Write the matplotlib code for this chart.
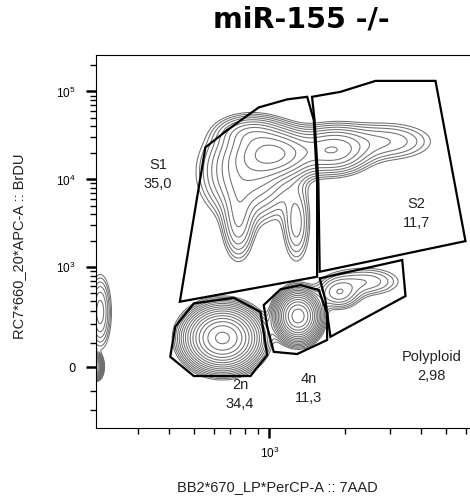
import numpy as np
import matplotlib
matplotlib.use('Agg')
import matplotlib.pyplot as plt
from matplotlib.ticker import FixedLocator, NullFormatter

plt.rcParams['mathtext.fontset'] = 'custom'
plt.rcParams['mathtext.rm'] = 'Liberation Sans'
plt.rcParams['mathtext.it'] = 'Liberation Sans'

# scale constant of the BrdU (arcsinh) axis
ASINH_C = 147.0

# cell populations: centre (x = 7AAD, y = BrdU), spread in decades / asinh units, weight
pop_names = ['2n', '4n', 'G2', 'poly tail', 'S core', 'S broad', 'S top', 'S2 peak', 'S2 tail',
             'leg L', 'leg R', 'edge', 'edge zero']
pop_x = [651, 1299, 1880, 2405, 1056, 828, 845, 1795, 2884, 753, 1280, 213, 207]
pop_y = [123, 260, 498, 680, 19900, 12000, 34000, 21500, 27000, 3270, 3100, 293, 0]
pop_sx = [0.067, 0.04, 0.048, 0.087, 0.087, 0.099, 0.071, 0.079, 0.119, 0.036, 0.032, 0.025, 0.01]
pop_sy = [0.37, 0.3, 0.236, 0.236, 0.34, 0.654, 0.236, 0.34, 0.314, 0.576, 0.6, 0.55, 0.13]
pop_w = [1.0, 0.4, 0.028, 0.03, 0.237, 0.291, 0.042, 0.121, 0.056, 0.05, 0.034, 0.033, 0.04]

# gates (data units)
s1_x = [441, 557, 680, 907, 1175, 1412, 1500, 1546, 1546]
s1_y = [393, 23100, 36400, 65900, 81300, 87000, 47200, 9080, 775]
s2_x = [1476, 1914, 2636, 4560, 5997, 1583, 1564, 1510]
s2_y = [87000, 99100, 132000, 132000, 1985, 885, 9080, 47200]
poly_x = [1583, 3365, 3467, 1746, 1667]
poly_y = [742, 1206, 460, 129, 411]
n4_x = [949, 1106, 1328, 1570, 1694, 1694, 1288, 1040, 980]
n4_y = [358, 553, 620, 542, 281, 113, 51, 60, 186]
n2_x = [404, 423, 501, 722, 921, 980, 841, 501]
n2_y = [40, 186, 375, 438, 294, 47, -35, -35]

gate_labels = ['S1\n35,0', 'S2\n11,7', 'Polyploid\n2,98', '2n\n34,4', '4n\n11,3']


def fwd(y):
    return np.arcsinh(np.asarray(y, dtype=float) / ASINH_C)


def inv(v):
    return ASINH_C * np.sinh(v)


def density():
    u = np.linspace(2.15, 3.9, 500)
    v = np.linspace(-3.0, 8.6, 500)
    U, V = np.meshgrid(u, v)
    Z = np.zeros_like(U)
    for x, y, sx, sy, w in zip(pop_x, pop_y, pop_sx, pop_sy, pop_w):
        cu = np.log10(x)
        cv = fwd(y)
        Z += w / (sx * sy) * np.exp(-0.5 * (((U - cu) / sx) ** 2 + ((V - cv) / sy) ** 2))
    return 10 ** U, inv(V), Z


fig = plt.figure(figsize=(4.7, 5.0), dpi=100)
ax = fig.add_axes([96 / 470, 72 / 500, 374 / 470, 373 / 500])
ax.set_xscale('log')
ax.set_yscale('function', functions=(fwd, inv))
ax.set_xlim(205, 6250)
ax.set_ylim(-348, 260000)

X, Y, Z = density()
levels = np.geomspace(Z.max() * 0.012, Z.max() * 0.92, 16)
ax.contour(X, Y, Z, levels=levels, colors='#707070', linewidths=0.75)

for gx, gy in [(s1_x, s1_y), (s2_x, s2_y), (poly_x, poly_y), (n4_x, n4_y), (n2_x, n2_y)]:
    ax.fill(gx, gy, facecolor='none', edgecolor='black', linewidth=1.6, zorder=3)

label_pos = [(0.166, 0.68), (0.857, 0.576), (0.898, 0.164), (0.385, 0.090), (0.568, 0.106)]
for txt, (lx, ly) in zip(gate_labels, label_pos):
    ax.text(lx, ly, txt, transform=ax.transAxes, ha='center', va='center',
            fontsize=10.5, family='Liberation Sans', color='#222222', linespacing=1.45)

# ticks
ax.xaxis.set_major_locator(FixedLocator([1000]))
ax.xaxis.set_minor_locator(FixedLocator([300, 400, 500, 600, 700, 800, 900, 2000, 3000, 4000, 5000, 6000]))
ax.set_xticklabels(['$10^3$'])
ax.xaxis.set_minor_formatter(NullFormatter())
ax.yaxis.set_major_locator(FixedLocator([0, 1e3, 1e4, 1e5]))
ax.set_yticklabels(['0', '$10^3$', '$10^4$', '$10^5$'])
ymin = [-200, -100, 100, 200, 300, 400, 500, 600, 700, 800, 900]
ymin += [k * 1e3 for k in range(2, 10)] + [k * 1e4 for k in range(2, 10)] + [2e5]
ax.yaxis.set_minor_locator(FixedLocator(ymin))
ax.yaxis.set_minor_formatter(NullFormatter())
ax.tick_params(which='major', length=7, width=1.8, labelsize=8.5, pad=8)
ax.tick_params(axis='x', which='major', pad=6)
ax.tick_params(which='minor', length=4, width=1.0)
ax.spines['right'].set_visible(False)

fig.text(301 / 470, 1 - 19 / 500, 'miR-155 -/-', ha='center', va='center',
         fontsize=20.5, fontweight='bold', family='DejaVu Sans')
fig.text(277 / 470, 1 - 487 / 500, "BB2*670_LP*PerCP-A :: 7AAD", ha='center', va='center',
         fontsize=10.5, family='Liberation Sans', color='#222222')
fig.text(19 / 470, 1 - 246 / 500, "RC7*660_20*APC-A :: BrDU", ha='center', va='center',
         rotation=90, fontsize=10.5, family='Liberation Sans', color='#222222')

fig.savefig('out.png', dpi=100)
